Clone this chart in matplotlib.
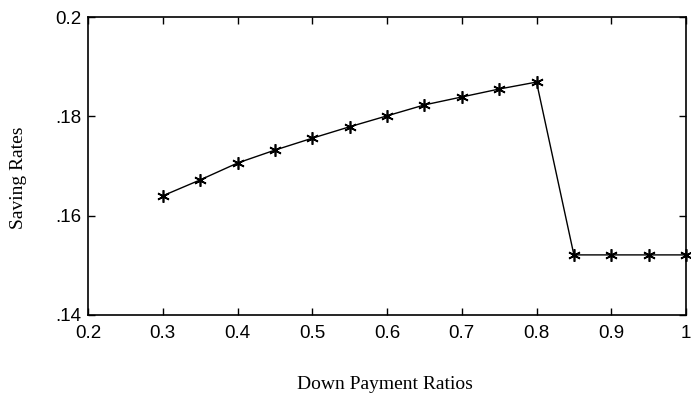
import matplotlib
matplotlib.use("Agg")
import matplotlib.pyplot as plt

down_payment = [0.30, 0.35, 0.40, 0.45, 0.50, 0.55, 0.60, 0.65, 0.70, 0.75, 0.80, 0.85, 0.90, 0.95, 1.00]
saving_rate = [0.1640, 0.1672, 0.1706, 0.1732, 0.1756, 0.1779, 0.1801, 0.1823, 0.1839, 0.1855, 0.1869,
               0.1521, 0.1521, 0.1521, 0.1521]
x_ticks = [0.2, 0.3, 0.4, 0.5, 0.6, 0.7, 0.8, 0.9, 1.0]
x_tick_labels = ["0.2", "0.3", "0.4", "0.5", "0.6", "0.7", "0.8", "0.9", "1"]
y_ticks = [0.14, 0.16, 0.18, 0.20]
y_tick_labels = [".14", ".16", ".18", "0.2"]

fig = plt.figure(figsize=(6.91, 3.93), dpi=100)
ax = fig.add_axes([0.1274, 0.1985, 0.8654, 0.7582])
ax.plot(down_payment, saving_rate, color="black", linewidth=1.0,
        marker=(6, 2, 0), markersize=9, markeredgewidth=1.2, markeredgecolor="black",
        clip_on=False)
ax.set_xlim(0.2, 1.0)
ax.set_ylim(0.14, 0.20)
ax.set_xticks(x_ticks)
ax.set_xticklabels(x_tick_labels, fontfamily="Liberation Sans", fontsize=13.5)
ax.set_yticks(y_ticks)
ax.set_yticklabels(y_tick_labels, fontfamily="Liberation Sans", fontsize=13.5)
ax.tick_params(direction="in", top=True, right=True, length=5, width=1)
ax.tick_params(axis="x", pad=7)
ax.tick_params(axis="y", pad=5)
for s in ax.spines.values():
    s.set_linewidth(1.2)
ax.set_xlabel("Down Payment Ratios", fontfamily="Liberation Serif", fontsize=14)
ax.set_ylabel("Saving Rates", fontfamily="Liberation Serif", fontsize=14)
ax.xaxis.set_label_coords((385 - 88) / 598 + 0.0, -(385 - 315) / 298, transform=ax.transAxes)
ax.xaxis.label.set_verticalalignment("center")
ax.yaxis.set_label_coords(-(88 - 18) / 598, (393 - 178 - 78) / 298, transform=ax.transAxes)
ax.yaxis.label.set_verticalalignment("center")
fig.savefig("out.png", dpi=100)
